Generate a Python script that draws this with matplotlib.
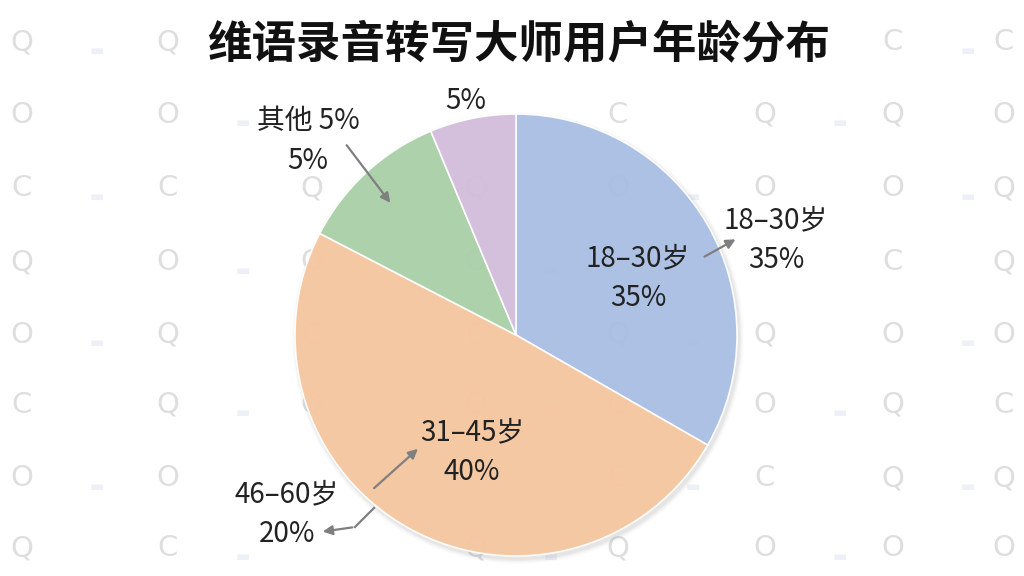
import matplotlib.pyplot as plt
from matplotlib.patches import Circle

plt.rcParams['font.family'] = ['Noto Sans CJK SC', 'DejaVu Sans']

# 数据
title = '维语录音转写大师用户年龄分布'
groups = ['18–30岁', '31–45岁', '其他', '其他2']
shares = [33.3, 49.3, 11.1, 6.3]          # 扇区实际占比
colors = ['#a9bfe4', '#f7c7a0', '#a9d0a8', '#d3bddc']

# 标签文字（原图的标注）
label_texts = ['18–30岁\n35%', '18–30岁\n35%', '31–45岁\n40%', '46–60岁\n20%', '其他 5%\n5%', '5%']
label_pos = [(638, 278), (776, 240), (472, 452), (287, 514), (308, 141), (466, 101)]

W, H = 1024, 576
fig = plt.figure(figsize=(W / 100, H / 100), dpi=100)
ax = fig.add_axes([0, 0, 1, 1])


def py(y):
    # 像素坐标(自上而下) -> 数据坐标
    return H - y


# 背景水印图案（避开标题和标签）
bg_cols = [22, 168, 312, 476, 618, 765, 893, 1004]
bg_rows = [42, 115, 188, 262, 335, 405, 478, 548]
bg_glyphs = ['Q', 'O', 'C', 'Q', 'O', 'C', 'O', 'Q']
for i, y in enumerate(bg_rows):
    for j, x in enumerate(bg_cols):
        if i == 0 and 190 < x < 850:
            continue
        if any(abs(x - lx) < 70 and abs(y - ly) < 40 for lx, ly in label_pos):
            continue
        g = bg_glyphs[(i + j * 3) % len(bg_glyphs)]
        ax.text(x, py(y), g, fontsize=21, color='#dedede', ha='center', va='center',
                family='DejaVu Sans', zorder=0)
        if (i + j) % 2 == 0 and x < 950:
            ax.text(x + 75, py(y + 8), '▬', fontsize=11, color='#edf0f7', ha='center',
                    va='center', family='DejaVu Sans', zorder=0)

cx, cy, r = 516, py(335), 221

# 阴影
for k, a in enumerate([0.05, 0.05, 0.04, 0.03, 0.02]):
    ax.add_patch(Circle((cx + 2, cy - 3), r + 1 + k, color='#808080', alpha=a, lw=0, zorder=1))

wedges, _ = ax.pie(shares, colors=colors, startangle=90, counterclock=False,
                   center=(cx, cy), radius=r,
                   wedgeprops=dict(edgecolor='white', linewidth=1.2, alpha=0.94))
for w in wedges:
    w.set_zorder(2)

ax.set_xlim(0, W)
ax.set_ylim(0, H)
ax.set_aspect('auto')
ax.axis('off')

# 标题
ax.text(519, py(45), title, fontsize=32, fontweight='bold', ha='center', va='center',
        color='#111111', zorder=5)

# 标签
txt = dict(fontsize=20, ha='center', va='center', color='#222222', linespacing=1.4, zorder=5)
for s, (lx, ly) in zip(label_texts, label_pos):
    ax.text(lx, py(ly), s, **txt)

# 箭头
arr = dict(arrowstyle='-|>', color='#7f7f7f', lw=1.6, mutation_scale=14)
ax.annotate('', xy=(738, py(238)), xytext=(702, py(258)), arrowprops=arr, zorder=6)
ax.annotate('', xy=(420, py(447)), xytext=(372, py(490)), arrowprops=arr, zorder=6)
ax.annotate('', xy=(392, py(205)), xytext=(345, py(143)), arrowprops=arr, zorder=6)
ax.plot([374, 355], [py(508), py(527)], color='#7f7f7f', lw=1.6, zorder=6)
ax.annotate('', xy=(320, py(532)), xytext=(355, py(527)), arrowprops=arr, zorder=6)

fig.savefig('out.png', dpi=100)
